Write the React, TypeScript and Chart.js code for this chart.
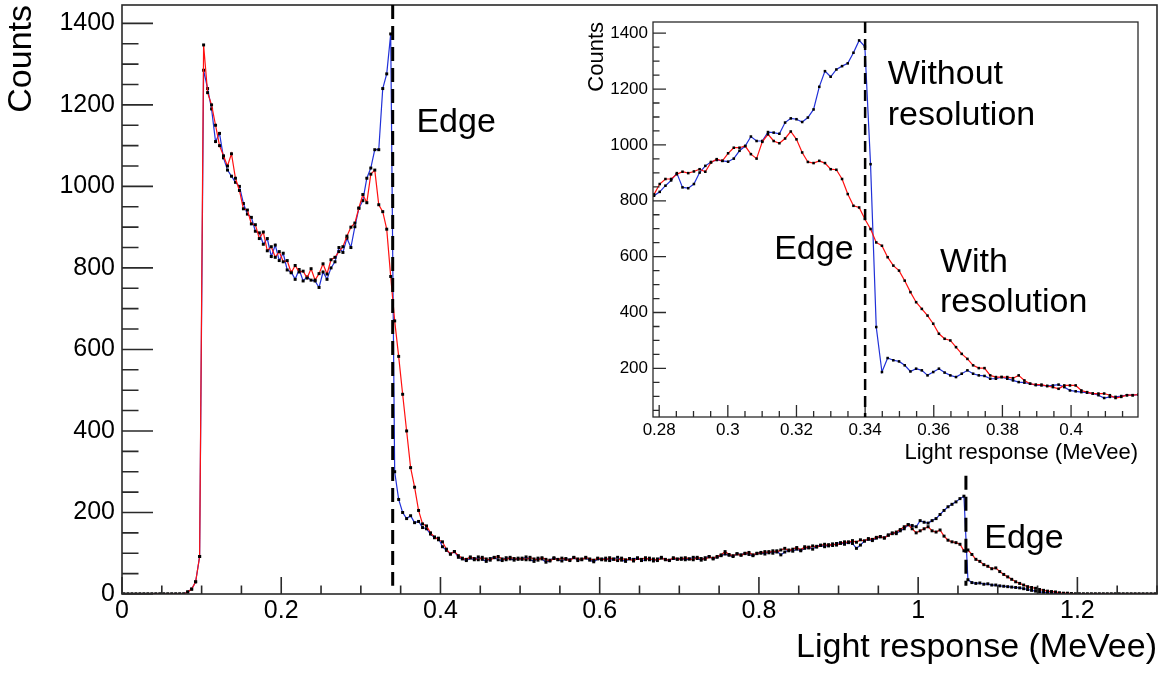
import React, { useEffect, useRef } from 'react';
import { Chart, registerables } from 'chart.js';

Chart.register(...registerables);

const FONT = '"Liberation Sans", Arial, Helvetica, sans-serif';

// ---------- Main histogram (bin centres: MAIN_X0 + i * MAIN_STEP, MeVee) ----------
const MAIN_X0 = 0.0025;
const MAIN_STEP = 0.005;

// "Without resolution" (blue)
const mainWithout = [
  0, 0, 0, 0, 0, 0, 0, 0, 0, 0, 0, 0, 0, 0, 0, 0,
  5, 12, 30, 92,
  1285, 1240, 1190, 1110, 1130, 1070, 1040, 1025, 1010, 1000,
  958, 932, 924, 890, 886, 858, 872, 828, 856, 818,
  836, 795, 790, 772, 796, 768, 778, 770, 768, 752,
  790, 772, 800, 815, 850, 838, 873, 850, 901, 946,
  965, 1020, 1045, 1090, 1090, 1240, 1276, 1374, 300, 232,
  200, 185, 192, 175, 178, 163, 160, 147, 138, 137,
  116, 107, 98, 104,
  90, 86, 82, 88, 84, 91, 85, 80, 87, 90, 84, 82, 89, 86, 83, 88,
  85, 91, 84, 80, 88, 86, 78, 83, 89, 85, 81, 87, 84, 90, 82, 86, 88, 83, 79, 86,
  84, 88, 82, 86, 90, 83, 80, 87, 85, 89, 82, 84, 88, 81, 86, 90, 84, 82, 87, 85,
  88, 84, 86, 90, 87, 83, 89, 92, 86, 90, 94, 98, 95, 92, 99, 96, 100, 97, 94, 99,
  102, 98, 104, 100, 106, 96, 103, 108, 105, 110, 106, 112, 115, 110, 117, 120, 116, 121, 119, 124,
  126, 122, 128, 124, 112, 120, 130, 134, 131, 137, 140, 138, 145, 150, 148, 155, 160, 170, 168, 165,
  180, 176, 174, 180, 185, 195, 205, 214, 220, 226, 234, 240,
  35, 28, 26, 27, 24, 25, 22, 22, 20, 19, 18, 17, 16, 15, 13, 11, 9, 7, 5, 4, 3, 2, 2, 1, 1,
  0, 0, 0, 0, 0, 0, 0, 0, 0, 0, 0, 0, 0, 0, 0, 0, 0, 0, 0, 0, 0, 0, 0,
];

// "With resolution" (red)
const mainWith = [
  0, 0, 0, 0, 0, 0, 0, 0, 0, 0, 0, 0, 0, 0, 0, 0,
  5, 12, 30, 92,
  1347, 1230, 1200, 1150, 1100, 1075, 1050, 1080, 1020, 990,
  945, 942, 908, 906, 872, 888, 842, 852, 826, 840,
  815, 818, 788, 806, 790, 792, 775, 798, 770, 786,
  810, 785, 820, 826, 840, 852, 878, 900, 910, 947,
  980, 960, 1030, 1040, 955, 938, 895, 779, 670, 583,
  490, 400, 310, 262, 205, 172, 167, 150, 140, 133,
  128, 110, 98, 104,
  94, 88, 85, 91, 87, 84, 90, 86, 83, 89, 92, 86, 84, 90, 87, 85,
  88, 84, 90, 86, 83, 89, 85, 81, 87, 84, 88, 85, 82, 89, 86, 84, 90, 86, 83, 88,
  86, 83, 89, 85, 82, 88, 84, 86, 81, 87, 85, 89, 84, 86, 82, 88, 85, 83, 89, 86,
  85, 89, 86, 84, 90, 87, 85, 91, 88, 92, 96, 104, 97, 94, 98, 95, 99, 102, 96, 100,
  100, 104, 101, 106, 103, 108, 112, 106, 110, 114, 108, 116, 113, 118, 115, 119, 122, 118, 123, 120,
  124, 128, 126, 131, 127, 133, 130, 136, 134, 139, 141, 137, 144, 148, 152, 158, 165, 170, 160, 150,
  155, 160, 165, 155, 152, 157, 142, 132, 128, 126, 122, 106,
  108, 97, 85, 80, 72, 68, 62, 64, 55, 48, 42, 36, 30, 26, 22, 18, 16, 14, 11, 9, 7, 6, 5, 3, 2, 2, 1, 0,
  0, 0, 0, 0, 0, 0, 0, 0, 0, 0, 0, 0, 0, 0, 0, 0, 0, 0, 0, 0,
];

// ---------- Inset (bin centres: INSET_X0 + i * INSET_STEP, MeVee) ----------
const INSET_X0 = 0.2785;
const INSET_STEP = 0.00166;

const insetWithout = [
  818, 832, 854, 873, 899, 848, 845, 860, 901, 925,
  939, 946, 943, 940, 951, 979, 996, 1030, 1014, 1014,
  1046, 1044, 1040, 1080, 1095, 1092, 1082, 1098, 1127, 1208,
  1264, 1244, 1270, 1282, 1292, 1330, 1374, 1352, 931, 348,
  187, 237, 229, 225, 211, 189, 199, 193, 175, 187,
  199, 185, 175, 169, 181, 193, 181, 175, 173, 163,
  163, 169, 163, 157, 151, 149, 145, 140, 139, 137,
  139, 142, 133, 121, 118, 115, 113, 110, 104, 94,
  98, 98, 101, 104, 104, 106,
];

const insetWith = [
  823, 860, 878, 878, 895, 904, 899, 905, 913, 904,
  937, 949, 943, 970, 990, 990, 996, 967, 951, 1011,
  1038, 1014, 1006, 1023, 1048, 1020, 973, 939, 935, 943,
  935, 913, 911, 878, 824, 782, 776, 735, 699, 651,
  639, 598, 568, 550, 514, 473, 437, 413, 389, 360,
  324, 306, 300, 276, 252, 234, 211, 201, 201, 175,
  169, 169, 169, 165, 175, 157, 145, 142, 142, 137,
  133, 127, 139, 139, 139, 121, 115, 110, 110, 110,
  104, 94, 98, 104, 104, 106,
];

// ---------- Ticks ----------
const MAIN_X_TICKS = [0, 0.2, 0.4, 0.6, 0.8, 1.0, 1.2];
const MAIN_X_LABELS = ['0', '0.2', '0.4', '0.6', '0.8', '1', '1.2'];
const MAIN_Y_TICKS = [0, 200, 400, 600, 800, 1000, 1200, 1400];
const MAIN_Y_LABELS = ['0', '200', '400', '600', '800', '1000', '1200', '1400'];
const INSET_X_TICKS = [0.28, 0.3, 0.32, 0.34, 0.36, 0.38, 0.4];
const INSET_X_LABELS = ['0.28', '0.3', '0.32', '0.34', '0.36', '0.38', '0.4'];
const INSET_Y_TICKS = [200, 400, 600, 800, 1000, 1200, 1400];
const INSET_Y_LABELS = ['200', '400', '600', '800', '1000', '1200', '1400'];

// ---------- Annotations (data coordinates) ----------
const MAIN_EDGE_LINES = [
  { x: 0.34, y0: 20, y1: 1445 },
  { x: 1.06, y0: 20, y1: 290 },
];
const INSET_EDGE_LINES = [{ x: 0.34, y0: 26, y1: 1440 }];
const MAIN_NOTES = [
  { text: 'Edge', x: 0.3698, y: 1134 },
  { text: 'Edge', x: 1.083, y: 113 },
];
const INSET_NOTES = [
  { text: 'Without', x: 0.3466, y: 1218 },
  { text: 'resolution', x: 0.3466, y: 1071 },
  { text: 'Edge', x: 0.3135, y: 592 },
  { text: 'With', x: 0.3618, y: 545 },
  { text: 'resolution', x: 0.3618, y: 402 },
];

const RED = '#ff1010';
const BLUE = '#2030d8';

type Note = { text: string; x: number; y: number };
type VLine = { x: number; y0: number; y1: number };
interface Decor {
  xMinor: number; xMajor: number; yMinor: number; yMajor: number;
  xMajLen: number; xMinLen: number; yMajLen: number; yMinLen: number;
  frameWidth: number;
  lines: VLine[]; lineWidth: number; dash: number[];
  notes: Note[]; noteFont: string;
}

function decorPlugin(d: Decor) {
  return {
    id: 'rootDecor',
    afterDatasetsDraw(chart: any) {
      const { ctx, chartArea: a } = chart;
      const sx = chart.scales.x;
      const sy = chart.scales.y;
      ctx.save();
      ctx.strokeStyle = '#2a2a2a';
      ctx.lineWidth = d.frameWidth;
      ctx.strokeRect(a.left, a.top, a.right - a.left, a.bottom - a.top);
      ctx.beginPath();
      const xi0 = Math.ceil(sx.min / d.xMinor - 1e-6);
      const xi1 = Math.floor(sx.max / d.xMinor + 1e-6);
      for (let i = xi0; i <= xi1; i++) {
        const v = i * d.xMinor;
        const r = v / d.xMajor;
        const major = Math.abs(r - Math.round(r)) < 1e-6;
        const px = sx.getPixelForValue(v);
        ctx.moveTo(px, a.bottom);
        ctx.lineTo(px, a.bottom - (major ? d.xMajLen : d.xMinLen));
      }
      const yi0 = Math.ceil(sy.min / d.yMinor - 1e-6);
      const yi1 = Math.floor(sy.max / d.yMinor + 1e-6);
      for (let i = yi0; i <= yi1; i++) {
        const v = i * d.yMinor;
        const r = v / d.yMajor;
        const major = Math.abs(r - Math.round(r)) < 1e-6;
        const py = sy.getPixelForValue(v);
        ctx.moveTo(a.left, py);
        ctx.lineTo(a.left + (major ? d.yMajLen : d.yMinLen), py);
      }
      ctx.stroke();

      ctx.strokeStyle = '#000';
      ctx.lineWidth = d.lineWidth;
      ctx.setLineDash(d.dash);
      for (const l of d.lines) {
        const px = sx.getPixelForValue(l.x);
        ctx.beginPath();
        ctx.moveTo(px, sy.getPixelForValue(l.y1));
        ctx.lineTo(px, sy.getPixelForValue(l.y0));
        ctx.stroke();
      }
      ctx.setLineDash([]);

      ctx.fillStyle = '#000';
      ctx.font = d.noteFont;
      ctx.textAlign = 'left';
      ctx.textBaseline = 'alphabetic';
      for (const n of d.notes) {
        ctx.fillText(n.text, sx.getPixelForValue(n.x), sy.getPixelForValue(n.y));
      }
      ctx.restore();
    },
  };
}

function series(values: number[], x0: number, step: number) {
  return values.map((v, i) => ({ x: x0 + i * step, y: v }));
}

function dataset(label: string, data: any[], color: string, radius: number) {
  return {
    label,
    data,
    borderColor: color,
    borderWidth: 1.2,
    pointStyle: 'rect',
    pointRadius: radius,
    pointBackgroundColor: '#000',
    pointBorderColor: '#000',
    pointBorderWidth: 0,
    tension: 0,
    fill: false,
  };
}

function fixBox(width: number | null, height: number | null) {
  return (s: any) => {
    if (width !== null) s.width = width;
    if (height !== null) s.height = height;
    s.paddingTop = 0;
    s.paddingBottom = 0;
    s.paddingLeft = 0;
    s.paddingRight = 0;
  };
}

function buildMain(canvas: HTMLCanvasElement) {
  return new Chart(canvas, {
    type: 'line',
    data: {
      datasets: [
        dataset('With resolution', series(mainWith, MAIN_X0, MAIN_STEP), RED, 2.1),
        dataset('Without resolution', series(mainWithout, MAIN_X0, MAIN_STEP), BLUE, 2.1),
      ],
    } as any,
    options: {
      responsive: false,
      animation: false,
      events: [],
      layout: { padding: { left: 0, top: 5, right: 5, bottom: 0 } },
      plugins: { legend: { display: false }, tooltip: { enabled: false } },
      scales: {
        x: {
          type: 'linear',
          min: 0,
          max: 1.3,
          grid: { display: false, drawTicks: false },
          border: { display: false },
          afterBuildTicks: (s: any) => { s.ticks = MAIN_X_TICKS.map((v) => ({ value: v })); },
          afterFit: fixBox(null, 79),
          ticks: {
            autoSkip: false, maxRotation: 0, minRotation: 0, padding: 2, color: '#000',
            font: { family: FONT, size: 25 },
            callback: (_v: any, i: number) => MAIN_X_LABELS[i],
          },
          title: {
            display: true, text: 'Light response (MeVee)', align: 'end', color: '#000',
            font: { family: FONT, size: 34 }, padding: { top: 0, bottom: 5 },
          },
        },
        y: {
          type: 'linear',
          min: 0,
          max: 1445,
          grid: { display: false, drawTicks: false },
          border: { display: false },
          afterBuildTicks: (s: any) => { s.ticks = MAIN_Y_TICKS.map((v) => ({ value: v })); },
          afterFit: fixBox(122, null),
          ticks: {
            autoSkip: false, padding: 7, color: '#000',
            font: { family: FONT, size: 25 },
            callback: (_v: any, i: number) => MAIN_Y_LABELS[i],
          },
          title: {
            display: true, text: 'Counts', align: 'end', color: '#000',
            font: { family: FONT, size: 34 }, padding: { top: 1, bottom: 0 },
          },
        },
      },
    } as any,
    plugins: [
      decorPlugin({
        xMinor: 0.05, xMajor: 0.2, yMinor: 50, yMajor: 200,
        xMajLen: 17, xMinLen: 8.5, yMajLen: 31, yMinLen: 16.5,
        frameWidth: 1.6,
        lines: MAIN_EDGE_LINES, lineWidth: 3, dash: [14, 7],
        notes: MAIN_NOTES, noteFont: `34px ${FONT}`,
      }),
    ],
  });
}

function buildInset(canvas: HTMLCanvasElement) {
  return new Chart(canvas, {
    type: 'line',
    data: {
      datasets: [
        dataset('With resolution', series(insetWith, INSET_X0, INSET_STEP), RED, 1.8),
        dataset('Without resolution', series(insetWithout, INSET_X0, INSET_STEP), BLUE, 1.8),
      ],
    } as any,
    options: {
      responsive: false,
      animation: false,
      events: [],
      layout: { padding: { left: 0, top: 22, right: 22, bottom: 0 } },
      plugins: { legend: { display: false }, tooltip: { enabled: false } },
      scales: {
        x: {
          type: 'linear',
          min: 0.2782,
          max: 0.4195,
          grid: { display: false, drawTicks: false },
          border: { display: false },
          afterBuildTicks: (s: any) => { s.ticks = INSET_X_TICKS.map((v) => ({ value: v })); },
          afterFit: fixBox(null, 63),
          ticks: {
            autoSkip: false, maxRotation: 0, minRotation: 0, padding: 3, color: '#000',
            font: { family: FONT, size: 17 },
            callback: (_v: any, i: number) => INSET_X_LABELS[i],
          },
          title: {
            display: true, text: 'Light response (MeVee)', align: 'end', color: '#000',
            font: { family: FONT, size: 22 }, padding: { top: 0, bottom: 14 },
          },
        },
        y: {
          type: 'linear',
          min: 26,
          max: 1440,
          grid: { display: false, drawTicks: false },
          border: { display: false },
          afterBuildTicks: (s: any) => { s.ticks = INSET_Y_TICKS.map((v) => ({ value: v })); },
          afterFit: fixBox(93, null),
          ticks: {
            autoSkip: false, padding: 5, color: '#000',
            font: { family: FONT, size: 17 },
            callback: (_v: any, i: number) => INSET_Y_LABELS[i],
          },
          title: {
            display: true, text: 'Counts', align: 'end', color: '#000',
            font: { family: FONT, size: 22 }, padding: { top: 24, bottom: 0 },
          },
        },
      },
    } as any,
    plugins: [
      decorPlugin({
        xMinor: 0.005, xMajor: 0.02, yMinor: 50, yMajor: 200,
        xMajLen: 12, xMinLen: 6, yMajLen: 13, yMinLen: 6.5,
        frameWidth: 1.3,
        lines: INSET_EDGE_LINES, lineWidth: 2.5, dash: [11, 6],
        notes: INSET_NOTES, noteFont: `34px ${FONT}`,
      }),
    ],
  });
}

export default function App() {
  const mainRef = useRef<HTMLCanvasElement>(null);
  const insetRef = useRef<HTMLCanvasElement>(null);

  useEffect(() => {
    const main = buildMain(mainRef.current as HTMLCanvasElement);
    const inset = buildInset(insetRef.current as HTMLCanvasElement);
    return () => {
      main.destroy();
      inset.destroy();
    };
  }, []);

  return (
    <div style={{ position: 'absolute', left: 0, top: 0, width: 1162, height: 673, background: '#fff' }}>
      <canvas
        ref={mainRef}
        width={1162}
        height={673}
        style={{ position: 'absolute', left: 0, top: 0, width: 1162, height: 673 }}
      />
      <canvas
        ref={insetRef}
        width={600}
        height={480}
        style={{ position: 'absolute', left: 560, top: 0, width: 600, height: 480 }}
      />
    </div>
  );
}
